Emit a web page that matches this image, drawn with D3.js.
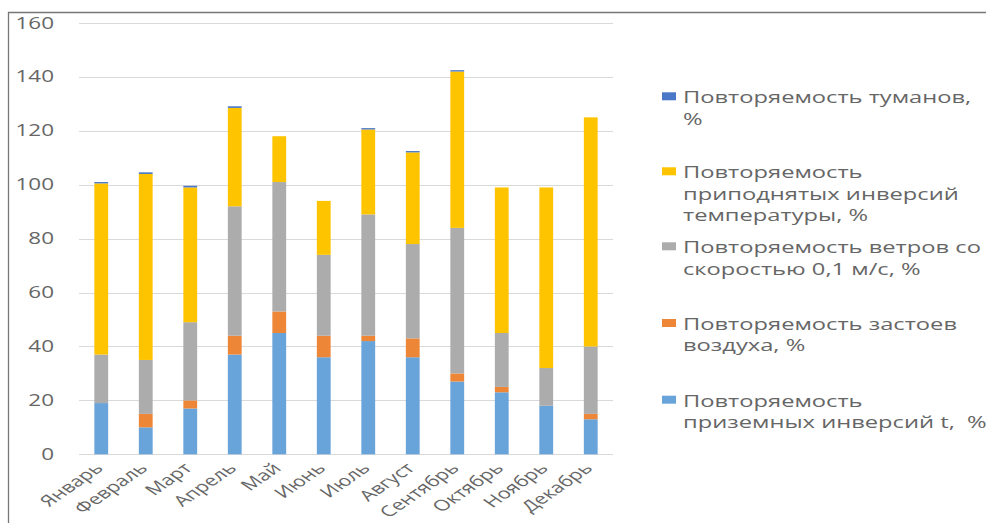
<!DOCTYPE html>
<html>
<head>
<meta charset="utf-8">
<script src="https://cdn.jsdelivr.net/npm/d3@7"></script>
<style>
  body { margin: 0; background: #fff; }
  svg { display: block; }
  text { font-family: "Open Sans", "Noto Sans", sans-serif; fill: #666; white-space: pre; }
</style>
</head>
<body>
<svg id="chart" width="986" height="523"></svg>
<script>
// Months on the category axis
const months = ["Январь", "Февраль", "Март", "Апрель", "Май", "Июнь",
                "Июль", "Август", "Сентябрь", "Октябрь", "Ноябрь", "Декабрь"];

// Series values, % (stacked from bottom to top in this order)
const groundInversions = [19, 10, 17, 37, 45, 36, 42, 36, 27, 23, 18, 13];
const airStagnation    = [0, 5, 3, 7, 8, 8, 2, 7, 3, 2, 0, 2];
const calmWinds        = [18, 20, 29, 48, 48, 30, 45, 35, 54, 20, 14, 25];
const raisedInversions = [63.5, 69, 50, 36.5, 17, 20, 31.5, 34, 58, 54, 67, 85];
const fogs             = [0.5, 0.6, 0.6, 0.6, 0, 0, 0.5, 0.5, 0.5, 0, 0, 0];

// Value axis ticks
const yTicks = [0, 20, 40, 60, 80, 100, 120, 140, 160];

// Legend captions, one array of lines per series
const groundLabel     = ["Повторяемость", "приземных инверсий t,  %"];
const stagnationLabel = ["Повторяемость застоев", "воздуха, %"];
const windLabel       = ["Повторяемость ветров со", "скоростью 0,1 м/с, %"];
const raisedLabel     = ["Повторяемость", "приподнятых инверсий", "температуры, %"];
const fogLabel        = ["Повторяемость туманов,", "%"];

const series = [
  { key: "ground",     values: groundInversions, color: "#68a4da", label: groundLabel },
  { key: "stagnation", values: airStagnation,    color: "#ee8638", label: stagnationLabel },
  { key: "wind",       values: calmWinds,        color: "#acacac", label: windLabel },
  { key: "raised",     values: raisedInversions, color: "#ffc400", label: raisedLabel },
  { key: "fog",        values: fogs,             color: "#4a78c6", label: fogLabel }
];

const table = months.map((m, i) => {
  const row = { month: m };
  series.forEach(s => { row[s.key] = s.values[i]; });
  return row;
});

const svg = d3.select("#chart");
const W = 986, H = 523;
const plot = { left: 79, right: 613, top: 23, bottom: 454.3 };
const sx = 1.45;       // horizontal stretch of the axis lettering
const sxLegend = 1.53; // horizontal stretch of the legend lettering

const x = d3.scaleBand().domain(months).range([plot.left, plot.right]).paddingInner(0.69).paddingOuter(0.345);
const y = d3.scaleLinear().domain([0, 160]).range([plot.bottom, plot.top]);

// Outer frame (top and left edges)
svg.append("path")
  .attr("d", `M8.5,${H} L8.5,12.5 L${W},12.5`)
  .attr("fill", "none").attr("stroke", "#7a7676").attr("stroke-width", 1.3);

// Horizontal gridlines
svg.append("g").selectAll("line").data(yTicks).join("line")
  .attr("x1", plot.left).attr("x2", plot.right)
  .attr("y1", d => Math.round(y(d)) + 0.5).attr("y2", d => Math.round(y(d)) + 0.5)
  .attr("stroke", "#d9d9d9").attr("stroke-width", 1.2);

// Y tick labels
svg.append("g").selectAll("text").data(yTicks).join("text")
  .attr("transform", d => `translate(54,${y(d)}) scale(${sx},1)`)
  .attr("dy", "0.36em")
  .attr("text-anchor", "end")
  .attr("font-size", 15.5)
  .text(d => d);

// Stacked bars
const stack = d3.stack().keys(series.map(s => s.key));
const layers = stack(table);
svg.append("g").selectAll("g").data(layers).join("g")
  .attr("fill", (d, i) => series[i].color)
  .selectAll("rect").data(d => d).join("rect")
  .attr("x", d => x(d.data.month))
  .attr("width", x.bandwidth())
  .attr("y", d => y(d[1]))
  .attr("height", d => Math.max(0, y(d[0]) - y(d[1])));

// Month labels, slanted
svg.append("g").selectAll("text").data(months).join("text")
  .attr("transform", d => `translate(${x(d) + x.bandwidth() / 2 + 3},${plot.bottom + 15}) scale(${sx},1) rotate(-45)`)
  .attr("text-anchor", "end")
  .attr("font-size", 15)
  .text(d => d);

// Legend (top series first)
const legendTop = [103.3, 178.3, 253.3, 330, 406.7];
const legendSeries = series.slice().reverse();
const lg = svg.append("g").selectAll("g").data(legendSeries).join("g")
  .attr("transform", (d, i) => `translate(0,${legendTop[i]})`);
lg.append("rect")
  .attr("x", 662).attr("y", -11).attr("width", 14).attr("height", 8)
  .attr("fill", d => d.color);
lg.each(function (d) {
  d3.select(this).selectAll("text").data(d.label).join("text")
    .attr("transform", (t, j) => `translate(683,${j * 21.3}) scale(${sxLegend},1)`)
    .attr("font-size", 15.5)
    .text(t => t);
});
</script>
</body>
</html>
